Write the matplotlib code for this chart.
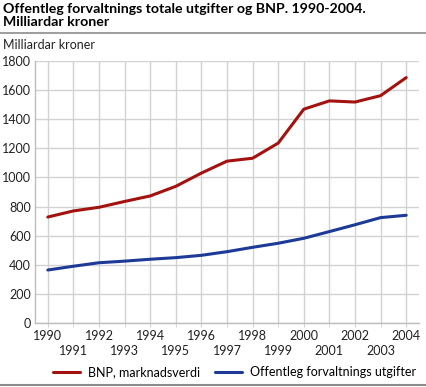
import matplotlib.pyplot as plt
from matplotlib.lines import Line2D

years = list(range(1990, 2005))
bnp = [728, 770, 795, 835, 873, 939, 1030, 1112, 1132, 1236, 1469, 1526, 1518, 1562, 1686]
utgifter = [364, 390, 414, 425, 438, 449, 465, 490, 520, 548, 582, 628, 675, 724, 740]
even_years = [y for y in years if y % 2 == 0]
odd_years = [y for y in years if y % 2 == 1]

plt.rcParams['font.family'] = ['Lato', 'DejaVu Sans']

fig = plt.figure(figsize=(4.26, 3.87), dpi=100)
ax = fig.add_axes([35/426, 1 - 323/387, (419 - 35)/426, (323 - 61)/387])

grid_c = '#d2d2d2'
ax.plot(years, bnp, color='#a3120e', lw=2.2, label='BNP, marknadsverdi', solid_capstyle='round')
ax.plot(years, utgifter, color='#1c3a96', lw=2.2, label='Offentleg forvaltnings utgifter', solid_capstyle='round')

ax.set_xlim(1989.5, 2004.5)
ax.set_ylim(0, 1800)
ax.set_yticks(range(0, 1801, 200))
# even years on the first row, odd years one row lower
ax.set_xticks(even_years)
ax.set_xticklabels([str(y) for y in even_years], fontsize=9, color='#222222')
ax.set_xticks(odd_years, minor=True)
ax.set_xticklabels([str(y) for y in odd_years], minor=True, fontsize=9, color='#222222')
ax.tick_params(axis='y', labelsize=9, colors='#222222', length=0, pad=3)
ax.tick_params(axis='x', which='major', length=3, color=grid_c, pad=2)
ax.tick_params(axis='x', which='minor', length=3, color=grid_c, pad=13)
ax.grid(True, which='major', color=grid_c, lw=1)
ax.grid(True, which='minor', axis='x', color=grid_c, lw=1)
ax.set_axisbelow(True)
for s in ['top', 'right']:
    ax.spines[s].set_visible(False)
for s in ['left', 'bottom']:
    ax.spines[s].set_color('#bdbdbd')
    ax.spines[s].set_linewidth(1)

fig.text(3/426, 1 - 3/387, 'Offentleg forvaltnings totale utgifter og BNP. 1990-2004.\nMilliardar kroner',
         fontsize=10.2, fontweight='bold', va='top', ha='left', linespacing=1.05)
fig.text(3/426, 1 - 45/387, 'Milliardar kroner', fontsize=9, va='center', ha='left', color='#222222')
fig.add_artist(Line2D([0, 1], [1 - 33/387, 1 - 33/387], color='#8c8c8c', lw=1.2))
fig.add_artist(Line2D([0, 1], [1 - 385/387, 1 - 385/387], color='#8c8c8c', lw=1.5))

fig.legend(loc='center', bbox_to_anchor=(0.55, 1 - 372/387), ncol=2, frameon=False,
           fontsize=9, handlelength=2.2, columnspacing=1.2, handletextpad=0.6)

fig.savefig('out.png', dpi=100)
